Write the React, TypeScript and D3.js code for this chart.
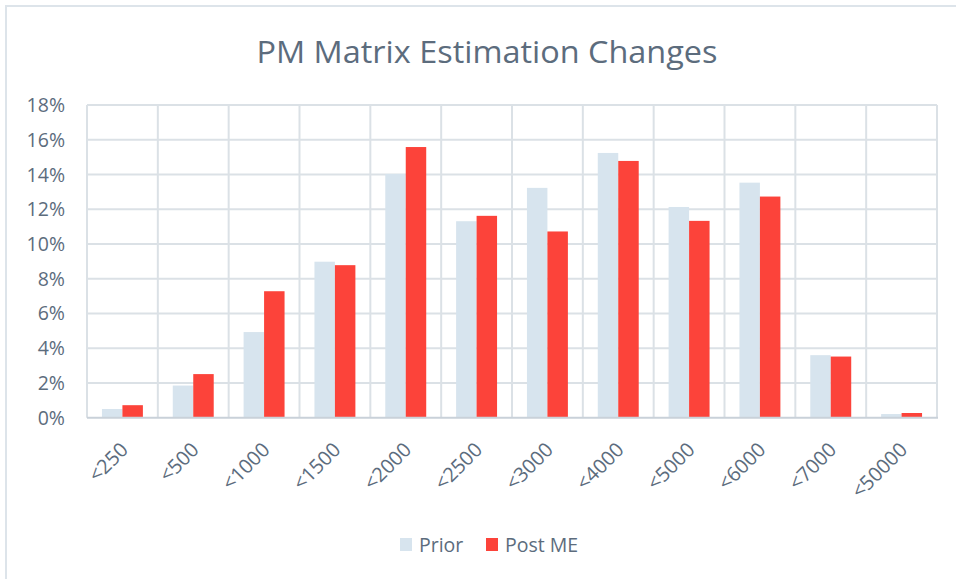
import React from "react";
import * as d3 from "d3";

const categories = ["<250", "<500", "<1000", "<1500", "<2000", "<2500", "<3000", "<4000", "<5000", "<6000", "<7000", "<50000"];
const priorValues = [0.5, 1.85, 4.93, 8.98, 14.03, 11.31, 13.23, 15.24, 12.13, 13.53, 3.6, 0.21];
const postValues = [0.72, 2.51, 7.28, 8.78, 15.58, 11.62, 10.72, 14.78, 11.33, 12.73, 3.52, 0.27];
const seriesNames = ["Prior", "Post ME"];
const seriesColors = ["#d7e4ee", "#fc433a"];
const yTicks = [0, 2, 4, 6, 8, 10, 12, 14, 16, 18];
const title = "PM Matrix Estimation Changes";

const W = 956;
const H = 579;
const plot = { left: 87, right: 937, top: 105, bottom: 417.7 };
const textColor = "#5c6c7d";
const font = "'Open Sans', sans-serif";

export default function App() {
  const x = d3.scaleBand<string>().domain(categories).range([plot.left, plot.right]).padding(0);
  const xs = d3.scaleBand<string>().domain(seriesNames).range([0, x.bandwidth()]).paddingInner(0).paddingOuter(0.73);
  const y = d3.scaleLinear().domain([0, 18]).range([plot.bottom, plot.top]);
  const series = [priorValues, postValues];
  const bounds = [...categories.map((c) => x(c) as number), plot.right];

  return (
    <svg width={W} height={H} style={{ position: "absolute", left: 0, top: 0, background: "#fff" }}>
      <rect x={0} y={0} width={W} height={H} fill="#fff" />
      <rect x={6} y={6} width={1200} height={1200} fill="none" stroke="#dde4ea" strokeWidth={2} />
      <text x={487} y={63} textAnchor="middle" fontFamily={font} fontSize={31} fill={textColor} textLength={461} lengthAdjust="spacingAndGlyphs">
        {title}
      </text>
      {yTicks.map((t) => (
        <g key={"y" + t}>
          {t > 0 && (
            <line x1={plot.left} x2={plot.right} y1={y(t)} y2={y(t)} stroke="#dbe1e6" strokeWidth={2} />
          )}
          <text x={65} y={y(t)} dy="0.36em" textAnchor="end" fontFamily={font} fontSize={19.5} fill={textColor}>
            {t + "%"}
          </text>
        </g>
      ))}
      {bounds.map((bx, i) => (
        <line key={"v" + i} x1={bx} x2={bx} y1={plot.top} y2={plot.bottom} stroke="#dbe1e6" strokeWidth={2} />
      ))}
      {categories.map((c, i) => (
        <g key={c}>
          {series.map((vals, s) => {
            const bx = (x(c) as number) + (xs(seriesNames[s]) as number);
            return (
              <rect
                key={s}
                x={bx}
                y={y(vals[i])}
                width={xs.bandwidth()}
                height={y(0) - y(vals[i])}
                fill={seriesColors[s]}
              />
            );
          })}
        </g>
      ))}
      <line x1={plot.left} x2={plot.right + 1} y1={plot.bottom} y2={plot.bottom} stroke="#c9d1d9" strokeWidth={2} />
      {categories.map((c) => {
        const cx = (x(c) as number) + x.bandwidth() / 2 + 2;
        const cy = 446;
        return (
          <text
            key={"xl" + c}
            x={cx}
            y={cy}
            dy="0.35em"
            textAnchor="end"
            transform={`rotate(-45 ${cx} ${cy})`}
            fontFamily={font}
            fontSize={20}
            fill={textColor}
          >
            {c}
          </text>
        );
      })}
      <g>
        <rect x={400} y={538} width={12} height={13} fill={seriesColors[0]} />
        <text x={419} y={551.5} fontFamily={font} fontSize={19.5} fill={textColor}>
          {seriesNames[0]}
        </text>
        <rect x={486} y={538} width={12} height={13} fill={seriesColors[1]} />
        <text x={505} y={551.5} fontFamily={font} fontSize={19.5} fill={textColor}>
          {seriesNames[1]}
        </text>
      </g>
    </svg>
  );
}
